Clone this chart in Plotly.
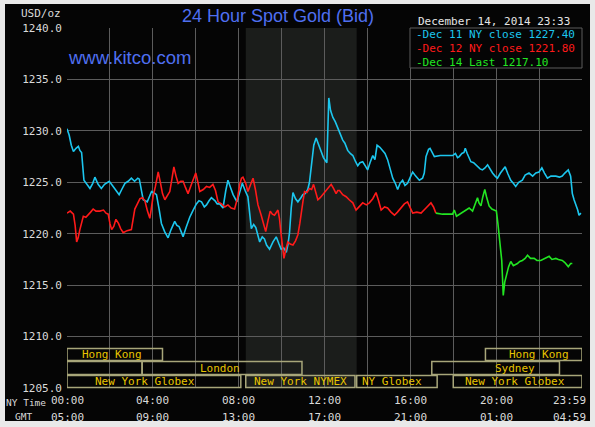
import plotly.graph_objects as go

# ---------------- data ----------------
dec11_hours = [0.00,0.10,0.20,0.30,0.42,0.53,0.60,0.68,0.79,0.90,1.07,1.20,1.30,1.45,1.60,1.75,1.97,2.15,2.30,2.43,2.55,2.70,2.85,3.00,3.15,3.30,3.37,3.45,3.55,3.74,3.94,4.05,4.17,4.30,4.40,4.55,4.71,4.85,5.02,5.12,5.22,5.32,5.41,5.55,5.72,5.88,6.03,6.15,6.27,6.40,6.50,6.62,6.73,6.90,7.00,7.12,7.27,7.40,7.50,7.62,7.74,7.92,8.05,8.17,8.30,8.43,8.59,8.70,8.80,8.98,9.10,9.20,9.30,9.44,9.60,9.75,9.88,9.98,10.10,10.22,10.30,10.37,10.45,10.53,10.65,10.76,10.90,10.99,11.10,11.22,11.30,11.38,11.50,11.61,11.72,11.85,11.95,12.11,12.16,12.20,12.28,12.39,12.50,12.62,12.72,12.85,12.95,13.08,13.20,13.32,13.45,13.55,13.65,13.78,13.90,14.01,14.12,14.25,14.35,14.45,14.58,14.71,14.82,14.94,15.05,15.18,15.30,15.41,15.52,15.64,15.75,15.87,16.00,16.11,16.25,16.42,16.57,16.65,16.73,16.85,16.92,17.02,17.12,17.40,17.70,17.97,18.10,18.20,18.28,18.40,18.50,18.56,18.65,18.82,18.95,19.13,19.25,19.36,19.48,19.60,19.70,19.83,19.95,20.06,20.20,20.30,20.42,20.55,20.68,20.80,20.91,21.05,21.22,21.35,21.53,21.70,21.85,22.00,22.13,22.25,22.39,22.55,22.78,22.95,23.08,23.20,23.36,23.47,23.55,23.63,23.71,23.80,23.86,23.95]
dec11_price = [1230.2,1229.6,1228.6,1228.0,1228.3,1228.5,1228.1,1227.9,1225.2,1224.9,1224.4,1224.9,1225.5,1224.8,1224.4,1224.8,1225.1,1224.6,1224.2,1223.8,1224.3,1224.9,1225.1,1225.4,1225.1,1225.4,1225.3,1224.5,1223.3,1223.1,1224.1,1224.0,1223.8,1222.3,1221.0,1220.2,1219.6,1220.4,1221.2,1220.8,1220.7,1220.2,1219.7,1220.6,1221.6,1222.3,1222.9,1223.2,1223.1,1222.6,1222.8,1223.2,1223.5,1223.2,1222.9,1222.9,1222.5,1224.2,1225.2,1224.5,1223.8,1223.1,1224.1,1224.9,1224.2,1223.6,1220.5,1220.9,1220.6,1219.2,1219.7,1219.5,1218.9,1218.5,1219.2,1219.7,1219.0,1218.5,1218.6,1218.2,1219.0,1220.1,1222.5,1224.0,1223.4,1223.1,1223.5,1223.8,1223.9,1224.3,1225.0,1226.4,1228.6,1229.3,1228.7,1228.0,1227.4,1226.9,1229.5,1233.2,1232.0,1231.3,1230.9,1230.3,1229.8,1229.1,1228.8,1228.1,1227.8,1227.6,1227.0,1226.6,1226.9,1227.0,1226.6,1226.2,1226.9,1227.6,1227.2,1228.6,1228.4,1228.1,1227.8,1227.2,1226.3,1225.4,1224.9,1224.3,1224.9,1225.2,1224.7,1224.9,1225.5,1226.0,1225.6,1225.2,1225.4,1225.9,1227.5,1228.2,1228.3,1227.9,1227.5,1227.6,1227.6,1227.6,1227.8,1227.4,1227.5,1227.8,1227.9,1228.3,1227.8,1227.0,1226.9,1226.5,1226.3,1226.2,1226.4,1226.7,1226.3,1225.9,1225.6,1225.4,1225.9,1226.2,1226.5,1225.8,1225.2,1224.9,1224.6,1225.0,1225.2,1225.7,1225.9,1225.6,1225.9,1226.0,1226.4,1225.9,1225.4,1225.6,1225.6,1225.5,1225.6,1225.9,1226.2,1225.6,1223.9,1223.3,1222.9,1222.3,1221.8,1222.0]

dec12_hours = [0.00,0.15,0.30,0.38,0.45,0.52,0.60,0.68,0.76,0.88,0.99,1.10,1.22,1.35,1.53,1.70,1.82,1.92,2.00,2.08,2.18,2.28,2.40,2.50,2.62,2.80,3.00,3.08,3.16,3.28,3.40,3.52,3.63,3.75,3.86,3.94,4.01,4.12,4.25,4.35,4.45,4.56,4.68,4.79,4.88,4.98,5.08,5.18,5.30,5.41,5.52,5.64,5.80,5.92,6.00,6.10,6.19,6.35,6.50,6.65,6.80,6.92,7.04,7.20,7.35,7.50,7.65,7.81,7.95,8.05,8.13,8.20,8.33,8.43,8.55,8.67,8.78,8.90,9.05,9.15,9.26,9.37,9.47,9.57,9.67,9.83,9.90,9.98,10.05,10.11,10.20,10.29,10.40,10.53,10.65,10.76,10.85,10.92,11.00,11.07,11.18,11.30,11.40,11.49,11.58,11.69,11.80,11.92,12.10,12.31,12.42,12.54,12.62,12.70,12.85,13.01,13.15,13.32,13.47,13.60,13.78,13.95,14.09,14.25,14.40,14.52,14.64,14.80,14.94,15.10,15.26,15.40,15.57,15.72,15.87,16.00,16.11,16.30,16.42,16.50,16.73,16.85,16.96,17.08,17.19]
dec12_price = [1222.0,1222.2,1221.9,1220.8,1219.2,1219.6,1220.4,1221.2,1221.7,1221.6,1221.9,1222.1,1222.4,1222.2,1222.2,1222.3,1222.0,1221.9,1221.0,1220.4,1220.7,1221.4,1221.0,1220.5,1220.1,1220.3,1220.4,1221.4,1222.4,1222.9,1223.4,1223.5,1223.2,1222.2,1221.5,1222.6,1223.6,1224.6,1226.0,1225.0,1223.9,1223.3,1223.8,1224.1,1225.2,1226.5,1225.6,1224.9,1225.1,1225.1,1224.5,1223.9,1224.8,1225.4,1225.9,1225.0,1224.1,1224.3,1224.6,1224.5,1224.8,1224.2,1223.1,1222.9,1222.6,1222.8,1222.5,1222.4,1223.5,1224.8,1225.4,1225.5,1224.9,1224.1,1224.8,1225.4,1224.3,1222.8,1221.8,1221.0,1220.2,1221.3,1222.2,1221.9,1221.8,1222.3,1221.5,1219.9,1218.5,1217.6,1218.5,1219.2,1219.0,1218.9,1219.3,1219.9,1221.0,1222.2,1223.2,1224.1,1224.0,1224.4,1224.3,1224.8,1224.0,1223.3,1223.5,1223.8,1224.2,1224.8,1224.4,1223.9,1224.2,1224.2,1223.8,1223.6,1223.3,1223.0,1222.3,1222.6,1223.0,1222.8,1223.0,1223.4,1224.0,1223.2,1222.3,1222.6,1222.5,1222.1,1221.8,1222.1,1222.5,1222.9,1223.1,1222.5,1222.0,1222.1,1222.0,1222.0,1222.5,1222.8,1223.0,1222.6,1222.0]

dec14_hours = [17.19,17.50,17.97,18.05,18.15,18.30,18.43,18.60,18.74,18.90,19.00,19.13,19.20,19.29,19.38,19.47,19.55,19.67,19.80,19.91,20.01,20.08,20.14,20.20,20.26,20.30,20.33,20.40,20.48,20.58,20.68,20.80,20.99,21.10,21.22,21.35,21.46,21.60,21.77,21.90,22.08,22.25,22.47,22.60,22.78,22.90,23.08,23.20,23.36,23.47,23.55]
dec14_price = [1222.0,1221.9,1221.9,1222.3,1221.7,1221.9,1222.0,1222.3,1222.5,1222.2,1222.8,1223.5,1223.0,1222.7,1223.6,1224.3,1223.6,1222.7,1222.4,1222.3,1222.2,1221.0,1219.7,1218.5,1217.4,1215.5,1214.0,1215.3,1216.1,1216.8,1217.3,1216.9,1217.1,1217.3,1217.4,1217.6,1217.9,1217.6,1217.6,1217.4,1217.4,1217.6,1217.8,1217.5,1217.6,1217.5,1217.4,1217.2,1216.8,1217.1,1217.1]

legend_texts = ["Dec 11 NY close 1227.40", "Dec 12 NY close 1221.80", "Dec 14 Last 1217.10"]

grid_hours = [0, 2, 4, 6, 8, 10, 12, 14, 16, 18, 20, 22, 24]
ny_tick_hours = [0, 4, 8, 12, 16, 20, 24]
ny_tick_labels = ["00:00", "04:00", "08:00", "12:00", "16:00", "20:00", "23:59"]
gmt_tick_labels = ["05:00", "09:00", "13:00", "17:00", "21:00", "01:00", "04:59"]

nymex_session = (8.33, 13.5)

# market sessions
session_rows = [0, 0, 1, 1, 1, 2, 2, 2, 2]
session_start = [0.0, 19.5, 0.0, 3.5, 17.0, 0.0, 8.33, 13.5, 18.0]
session_end = [4.45, 24.0, 3.5, 10.95, 22.95, 8.1, 13.42, 17.25, 24.0]
session_label = ["Hong Kong", "Hong Kong", "", "London", "Sydney", "New York Globex", "New York NYMEX", "NY Globex", "New York Globex"]
session_label_hour = [2.1, 22.0, 1.75, 7.13, 20.9, 3.62, 10.86, 15.15, 20.9]

# ---------------- style ----------------
W, H = 595, 427
L, R, T, B = 67, 13, 28, 39
PW, PH = W - L - R, H - T - B
CYAN, RED, GREEN = "#1cc6ee", "#ff1a1a", "#22e622"
BLUE = "#4f6ff0"
GRID = "#5c5c5c"
TXT = "#dadada"
MONO = "DejaVu Sans Mono, Liberation Mono, monospace"
GOLD = "#e8c400"
BOXC = "#a8a67a"


def xp(px):
    return (px - L) / PW


def yp(py):
    return (T + PH - py) / PH


fig = go.Figure()
for hrs, vals, col in [(dec11_hours, dec11_price, CYAN), (dec12_hours, dec12_price, RED), (dec14_hours, dec14_price, GREEN)]:
    fig.add_trace(go.Scatter(x=hrs, y=vals, mode="lines", line=dict(color=col, width=1.6), hoverinfo="skip", showlegend=False))

shapes = []
# outer black panel
shapes.append(dict(type="rect", xref="paper", yref="paper", x0=xp(5), x1=xp(590), y0=yp(421), y1=yp(4),
                   fillcolor="#050505", line=dict(width=0), layer="below"))
# NYMEX shading
shapes.append(dict(type="rect", xref="x", yref="paper", x0=nymex_session[0], x1=nymex_session[1], y0=0, y1=1,
                   fillcolor="#1b1d1b", line=dict(width=0), layer="below"))
# legend box
shapes.append(dict(type="rect", xref="paper", yref="paper", x0=xp(410), x1=1, y0=yp(68), y1=1,
                   fillcolor="#050505", line=dict(color=GRID, width=1), layer="above"))

row_bounds = [(348, 361), (361, 375), (375, 388)]
annotations = []
for r, s, e, lab, lh in zip(session_rows, session_start, session_end, session_label, session_label_hour):
    top, bot = row_bounds[r]
    shapes.append(dict(type="rect", xref="x", yref="paper", x0=s, x1=e, y0=yp(bot - 0.5), y1=yp(top + 0.5),
                       line=dict(color=BOXC, width=1.5), fillcolor="rgba(0,0,0,0)", layer="above"))
    if lab:
        annotations.append(dict(x=lh, y=yp((top + bot) / 2), xref="x", yref="paper", text=lab, showarrow=False,
                                font=dict(family=MONO, size=11, color=GOLD), xanchor="center", yanchor="middle"))

# titles and labels
annotations += [
    dict(x=xp(278), y=yp(16), xref="paper", yref="paper", text="24 Hour Spot Gold (Bid)", showarrow=False,
         font=dict(family="Liberation Sans, Arial", size=18, color=BLUE), xanchor="center", yanchor="middle"),
    dict(x=xp(66), y=yp(57), xref="paper", yref="paper", text="www.kitco.com", showarrow=False,
         font=dict(family="Liberation Sans, Arial", size=18.5, color=BLUE), xanchor="left", yanchor="middle"),
    dict(x=xp(63), y=yp(14), xref="paper", yref="paper", text="USD/oz", showarrow=False,
         font=dict(family=MONO, size=11, color=TXT), xanchor="right", yanchor="middle"),
    dict(x=xp(572), y=yp(21), xref="paper", yref="paper", text="December 14, 2014 23:33", showarrow=False,
         font=dict(family=MONO, size=11, color="#e6e6e6"), xanchor="right", yanchor="middle"),
    dict(x=xp(48), y=yp(402), xref="paper", yref="paper", text="NY Time", showarrow=False,
         font=dict(family=MONO, size=9.5, color=TXT), xanchor="right", yanchor="middle"),
    dict(x=xp(34), y=yp(416), xref="paper", yref="paper", text="GMT", showarrow=False,
         font=dict(family=MONO, size=9.5, color=TXT), xanchor="right", yanchor="middle"),
]
for txt, col, py in zip(legend_texts, [CYAN, RED, GREEN], [34.5, 48.3, 62]):
    annotations.append(dict(x=xp(414), y=yp(py), xref="paper", yref="paper", text="-" + txt, showarrow=False,
                            font=dict(family=MONO, size=11, color=col), xanchor="left", yanchor="middle"))
for i, h in enumerate(ny_tick_hours):
    last = i == len(ny_tick_hours) - 1
    for lab, py in [(ny_tick_labels[i], 400.5), (gmt_tick_labels[i], 417)]:
        annotations.append(dict(x=xp(588) if last else h, y=yp(py), xref="paper" if last else "x", yref="paper",
                                text=lab, showarrow=False, font=dict(family=MONO, size=11, color=TXT),
                                xanchor="right" if last else "center", yanchor="middle"))

fig.update_layout(
    width=W, height=H,
    margin=dict(l=L, r=R, t=T, b=B, pad=0),
    paper_bgcolor="#e9e9e9", plot_bgcolor="#050505",
    shapes=shapes, annotations=annotations,
    showlegend=False,
    xaxis=dict(range=[0, 24], tickvals=grid_hours, showticklabels=False, showgrid=True, gridcolor=GRID,
               gridwidth=1, zeroline=False, showline=False, ticks="", fixedrange=True, automargin=False),
    yaxis=dict(range=[1205, 1240], dtick=5, tick0=1205, tickformat=".1f", showgrid=True, gridcolor=GRID,
               gridwidth=1, zeroline=False, showline=False, ticks="", fixedrange=True, automargin=False,
               tickfont=dict(family=MONO, size=11, color=TXT), ticklabelstandoff=4),
)

fig.write_html("out.html", config={"displayModeBar": False},
               post_script="document.body.style.margin='0';document.body.style.overflow='hidden';")
